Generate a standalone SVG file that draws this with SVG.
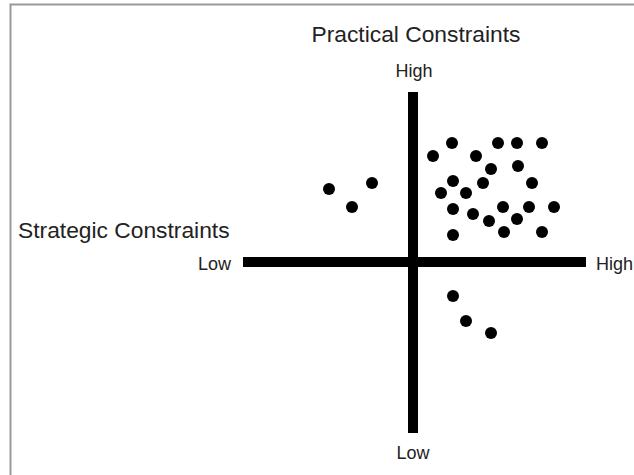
<svg xmlns="http://www.w3.org/2000/svg" width="634" height="475" viewBox="0 0 634 475">
<style>
.t{font-family:"Liberation Sans",Arial,sans-serif;fill:#222}
.title{font-size:22.8px}
.lab{font-size:18px}
.axis{stroke:#000;stroke-width:10}
.dot{fill:#000}
</style>
<rect x="0" y="0" width="634" height="475" fill="#fff"/>
<path d="M10.5 480 V4.5 H640" fill="none" stroke="#999" stroke-width="2"/>
<g id="connectors">
<line class="axis" x1="413" y1="92" x2="413" y2="433"/>
<line class="axis" x1="243" y1="262" x2="586" y2="262"/>
</g>
<g id="labels">
<text class="t title" x="416" y="42" text-anchor="middle">Practical Constraints</text>
<text class="t lab" x="414" y="77" text-anchor="middle">High</text>
<text class="t title" x="18" y="238">Strategic Constraints</text>
<text class="t lab" x="231" y="270" text-anchor="end">Low</text>
<text class="t lab" x="596" y="270">High</text>
<text class="t lab" x="413" y="459" text-anchor="middle">Low</text>
</g>
<g id="dots">
<circle class="dot" cx="452" cy="143" r="6"/>
<circle class="dot" cx="498" cy="143" r="6"/>
<circle class="dot" cx="517" cy="143" r="6"/>
<circle class="dot" cx="542" cy="143" r="6"/>
<circle class="dot" cx="433" cy="156" r="6"/>
<circle class="dot" cx="476" cy="156" r="6"/>
<circle class="dot" cx="491" cy="169" r="6"/>
<circle class="dot" cx="518" cy="166" r="6"/>
<circle class="dot" cx="453" cy="181" r="6"/>
<circle class="dot" cx="483" cy="183" r="6"/>
<circle class="dot" cx="532" cy="183" r="6"/>
<circle class="dot" cx="441" cy="193" r="6"/>
<circle class="dot" cx="466" cy="193" r="6"/>
<circle class="dot" cx="453" cy="209" r="6"/>
<circle class="dot" cx="473" cy="214" r="6"/>
<circle class="dot" cx="503" cy="207" r="6"/>
<circle class="dot" cx="529" cy="207" r="6"/>
<circle class="dot" cx="554" cy="207" r="6"/>
<circle class="dot" cx="489" cy="221" r="6"/>
<circle class="dot" cx="517" cy="219" r="6"/>
<circle class="dot" cx="453" cy="235" r="6"/>
<circle class="dot" cx="504" cy="232" r="6"/>
<circle class="dot" cx="542" cy="232" r="6"/>
<circle class="dot" cx="329" cy="189" r="6"/>
<circle class="dot" cx="372" cy="183" r="6"/>
<circle class="dot" cx="352" cy="207" r="6"/>
<circle class="dot" cx="453" cy="296" r="6"/>
<circle class="dot" cx="466" cy="321" r="6"/>
<circle class="dot" cx="491" cy="333" r="6"/>
</g>
</svg>
